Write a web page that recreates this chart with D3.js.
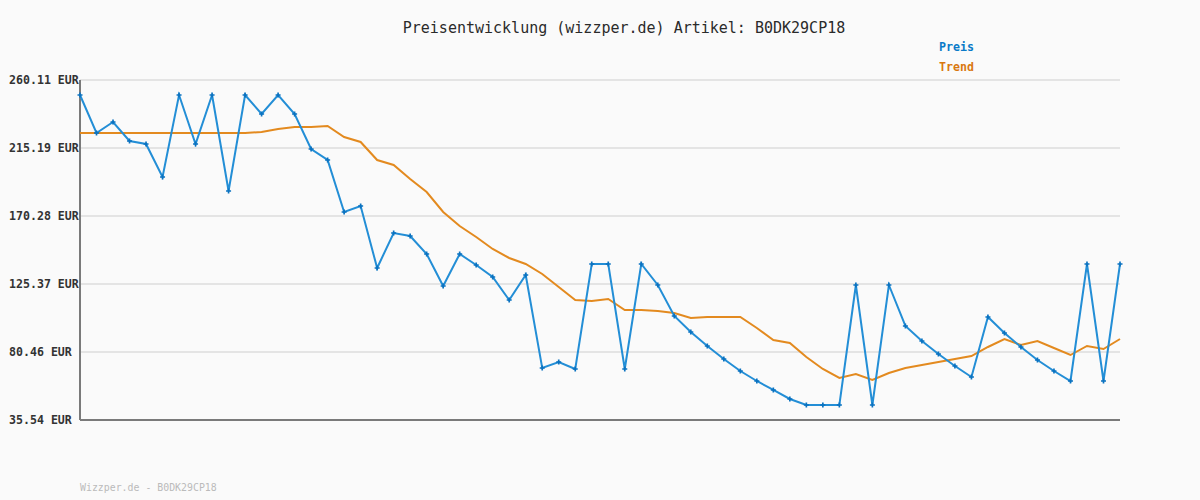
<!DOCTYPE html>
<html>
<head>
<meta charset="utf-8">
<script src="https://cdn.jsdelivr.net/npm/d3@7"></script>
<style>
  body { margin: 0; background: #fafafa; }
  svg { display: block; font-family: "DejaVu Sans Mono", monospace; }
</style>
</head>
<body>
<script>
// Preisentwicklung chart for B0DK29CP18

// price points (EUR)
var preis = [250.20, 225.10, 232.37, 219.82, 217.84, 196.04, 250.20, 217.84, 250.20, 186.79,
    250.20, 237.65, 250.20, 237.65, 214.54, 207.27, 172.92, 176.89, 135.94, 159.05,
    157.07, 145.18, 124.05, 145.18, 137.92, 129.99, 114.80, 131.31, 69.89, 73.85,
    69.23, 138.58, 138.58, 69.23, 138.58, 124.71, 104.23, 93.66, 84.42, 75.83,
    67.90, 61.30, 55.36, 49.41, 45.45, 45.45, 45.45, 124.71, 45.45, 124.71,
    97.63, 87.72, 79.13, 71.21, 63.94, 103.57, 92.99, 83.76, 75.17, 67.90,
    61.30, 138.58, 61.30, 138.58];

var trend = [225.10, 225.10, 225.10, 225.10, 225.10, 225.10, 225.10, 225.10, 225.10, 225.10,
    225.10, 225.76, 227.74, 229.06, 229.06, 229.72, 222.46, 219.16, 207.27, 203.97,
    194.72, 186.13, 172.92, 163.68, 156.41, 148.49, 142.54, 138.58, 131.97, 123.39,
    114.80, 114.14, 115.46, 108.19, 108.19, 107.53, 106.21, 102.91, 103.57, 103.57,
    103.57, 96.31, 88.38, 86.40, 77.15, 69.23, 63.28, 65.92, 61.96, 66.58,
    69.89, 71.87, 73.85, 75.83, 77.81, 83.76, 89.04, 85.08, 87.72, 83.10,
    78.47, 84.42, 82.44, 89.04];

var yTicks = [35.54, 80.46, 125.37, 170.28, 215.19, 260.11];
var seriesNames = ["Preis", "Trend"];

var width = 1200, height = 500;
var margin = {top: 80, right: 80, bottom: 80, left: 80};

var svg = d3.select("body").append("svg")
    .attr("width", width)
    .attr("height", height);

svg.append("rect")
    .attr("width", width)
    .attr("height", height)
    .attr("fill", "#fafafa");

var xScale = d3.scaleLinear()
    .domain([0, preis.length - 1])
    .range([margin.left, width - margin.right]);
var yScale = d3.scaleLinear()
    .domain([yTicks[0], yTicks[yTicks.length - 1]])
    .range([height - margin.bottom, margin.top]);

// grid lines
svg.append("g")
    .selectAll("line")
    .data(yTicks)
    .enter().append("line")
    .attr("x1", margin.left)
    .attr("x2", width - margin.right)
    .attr("y1", function(d) { return yScale(d); })
    .attr("y2", function(d) { return yScale(d); })
    .attr("stroke", "#e4e4e4")
    .attr("stroke-width", 2);

// y axis, labels left aligned like the original
var yAxis = d3.axisLeft(yScale)
    .tickValues(yTicks)
    .tickSize(0)
    .tickFormat(function(d) { return d.toFixed(2) + " EUR"; });

var gy = svg.append("g")
    .attr("transform", "translate(" + margin.left + ",0)")
    .call(yAxis);
gy.select(".domain").remove();
gy.selectAll("text")
    .attr("x", 9 - margin.left)
    .attr("text-anchor", "start")
    .attr("fill", "#333")
    .style("font-size", "11.6px")
    .style("font-weight", "bold")
    .style("font-family", "'DejaVu Sans Mono', monospace");

// axis lines
svg.append("line")
    .attr("x1", margin.left).attr("x2", margin.left)
    .attr("y1", margin.top).attr("y2", height - margin.bottom)
    .attr("stroke", "#7a7a7a").attr("stroke-width", 2);
svg.append("line")
    .attr("x1", margin.left).attr("x2", width - margin.right)
    .attr("y1", height - margin.bottom).attr("y2", height - margin.bottom)
    .attr("stroke", "#7a7a7a").attr("stroke-width", 2);

var line = d3.line()
    .x(function(d, i) { return xScale(i); })
    .y(function(d) { return yScale(d); });

// trend line
svg.append("path")
    .datum(trend)
    .attr("fill", "none")
    .attr("stroke", "#e38a1f")
    .attr("stroke-width", 2)
    .attr("d", line);

// price line
svg.append("path")
    .datum(preis)
    .attr("fill", "none")
    .attr("stroke", "#238ed6")
    .attr("stroke-width", 2)
    .attr("d", line);

svg.selectAll(".dot")
    .data(preis)
    .enter().append("path")
    .attr("class", "dot")
    .attr("d", d3.symbol().type(d3.symbolCross).size(14))
    .attr("transform", function(d, i) {
        return "translate(" + xScale(i) + "," + yScale(d) + ")";
    })
    .attr("fill", "#0a72c0");

// title
svg.append("text")
    .attr("x", 624)
    .attr("y", 33)
    .attr("text-anchor", "middle")
    .attr("fill", "#2a2a2a")
    .style("font-size", "15px")
    .text("Preisentwicklung (wizzper.de) Artikel: B0DK29CP18");

// legend
var legendColors = ["#0a7ac8", "#d9780f"];
svg.selectAll(".legend")
    .data(seriesNames)
    .enter().append("text")
    .attr("class", "legend")
    .attr("x", 939)
    .attr("y", function(d, i) { return 51 + i * 20; })
    .attr("fill", function(d, i) { return legendColors[i]; })
    .style("font-size", "11.6px")
    .style("font-weight", "bold")
    .text(function(d) { return d; });

// footer
svg.append("text")
    .attr("x", 80)
    .attr("y", 491)
    .attr("fill", "#bbb")
    .style("font-size", "9.9px")
    .text("Wizzper.de - B0DK29CP18");
</script>
</body>
</html>
